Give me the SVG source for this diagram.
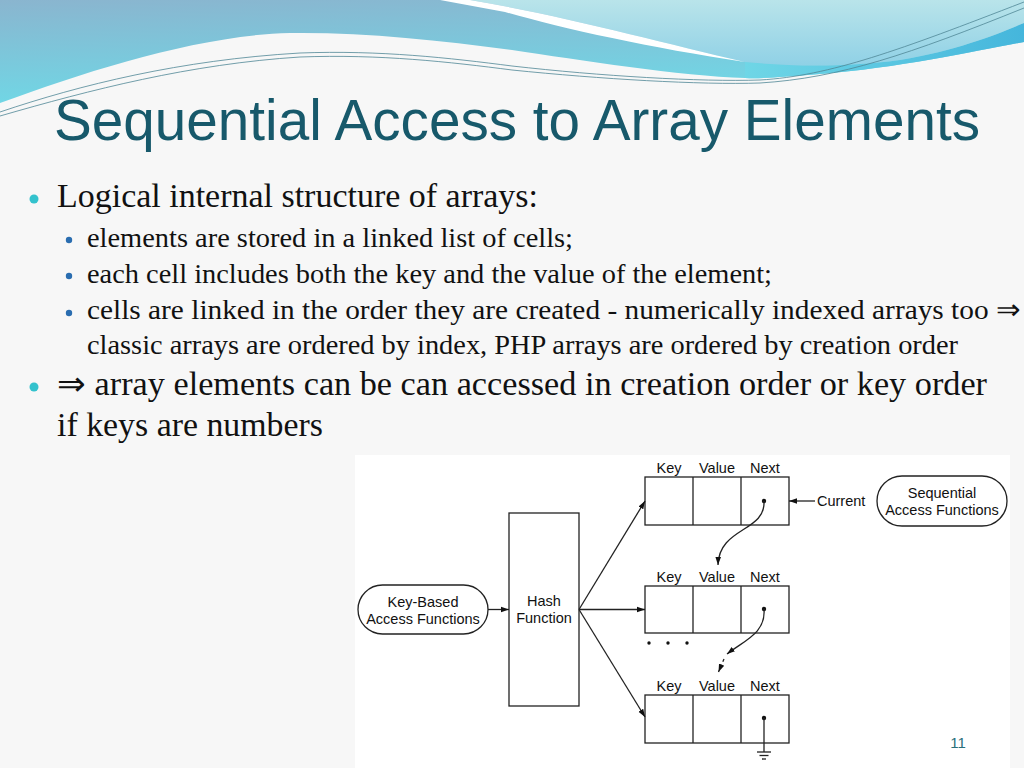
<svg xmlns="http://www.w3.org/2000/svg" width="1024" height="768" viewBox="0 0 1024 768">
<defs>
  <linearGradient id="gBase" x1="0" y1="0" x2="0.25" y2="1">
    <stop offset="0" stop-color="#8ab5cf"/>
    <stop offset="1" stop-color="#6fd8e6"/>
  </linearGradient>
  <linearGradient id="gLight" x1="0" y1="0" x2="0" y2="1">
    <stop offset="0" stop-color="#b9e4ea"/>
    <stop offset="1" stop-color="#90d1e6"/>
  </linearGradient>
  <linearGradient id="gBand" x1="0" y1="0" x2="1" y2="0">
    <stop offset="0" stop-color="#6fd6e6"/>
    <stop offset="1" stop-color="#45b6dc"/>
  </linearGradient>
  <marker id="ah" viewBox="0 0 10 10" refX="10" refY="5" markerWidth="8" markerHeight="8" markerUnits="userSpaceOnUse" orient="auto">
    <path d="M0,1.5 L10,5 L0,8.5 Z" fill="#111"/>
  </marker>
  <style>
    .title{font-family:"Liberation Sans",Arial,sans-serif;font-size:58px;fill:#17596b}
    .b1{font-family:"Liberation Serif","Times New Roman",serif;font-size:33px;fill:#111}
    .b2{font-family:"Liberation Serif","Times New Roman",serif;font-size:28px;fill:#111}
    .dg{font-family:"Liberation Sans",Arial,sans-serif;font-size:14.5px;fill:#111;text-anchor:middle}
    .box{fill:#fff;stroke:#222;stroke-width:1.3}
    .ln{fill:none;stroke:#222;stroke-width:1.3}
    .dot1{fill:#33c2cd}
    .dot2{fill:#2a6db0}
  </style>
</defs>

<!-- background -->
<rect x="0" y="0" width="1024" height="768" fill="#f7f7f7"/>

<!-- header decoration -->
<g id="header">
  <path d="M0,0 H1024 V42 C980,50 900,68 820,74 C780,77 760,79 745,78 C680,76 580,60 512,50 C440,40 360,32 290,33 C200,35 90,70 0,103 Z" fill="url(#gBase)"/>
  <path d="M745,62 C790,66 840,68 900,60 C960,50 1000,33 1024,23 V42 C980,50 900,68 820,74 C780,77 760,79 745,78 Z" fill="url(#gBand)"/>
  <path d="M470,0 H1024 V23 C1000,33 960,50 900,60 C840,68 790,66 745,62 C660,42 560,15 470,0 Z" fill="url(#gLight)"/>
  <path d="M470,0 C560,15 660,42 745,62 C650,48 560,28 505,12 L440,0 Z" fill="#ffffff"/>
  <path d="M0,112 C80,85 180,60 300,53 C380,50 450,58 512,66 C600,76 700,82 760,80 C830,76 900,50 1024,2" fill="none" stroke="#4f8796" stroke-width="0.8"/>
  <path d="M0,116 C90,90 190,64 300,57 C380,54 450,62 512,70 C600,79 700,85 760,83 C840,78 910,54 1024,8" fill="none" stroke="#4f8796" stroke-width="0.8"/>
</g>

<!-- title -->
<text class="title" x="54" y="140" textLength="926" lengthAdjust="spacingAndGlyphs">Sequential Access to Array Elements</text>

<!-- bullets -->
<g id="bullets">
  <circle class="dot1" cx="34" cy="199" r="4.5"/>
  <text class="b1" x="57" y="207" textLength="481" lengthAdjust="spacingAndGlyphs">Logical internal structure of arrays:</text>
  <circle class="dot2" cx="69" cy="240" r="3.2"/>
  <text class="b2" x="87" y="247" textLength="486" lengthAdjust="spacingAndGlyphs">elements are stored in a linked list of cells;</text>
  <circle class="dot2" cx="69" cy="276" r="3.2"/>
  <text class="b2" x="87" y="283" textLength="685" lengthAdjust="spacingAndGlyphs">each cell includes both the key and the value of the element;</text>
  <circle class="dot2" cx="69" cy="313" r="3.2"/>
  <text class="b2" x="87" y="319" textLength="933" lengthAdjust="spacingAndGlyphs">cells are linked in the order they are created - numerically indexed arrays too ⇒</text>
  <text class="b2" x="87" y="354" textLength="871" lengthAdjust="spacingAndGlyphs">classic arrays are ordered by index, PHP arrays are ordered by creation order</text>
  <circle class="dot1" cx="34" cy="387" r="4.5"/>
  <text class="b1" x="57" y="395" textLength="930" lengthAdjust="spacingAndGlyphs">⇒ array elements can be can accessed in creation order or key order</text>
  <text class="b1" x="57" y="436" textLength="266" lengthAdjust="spacingAndGlyphs">if keys are numbers</text>
</g>

<!-- diagram image background -->
<rect x="355" y="455" width="655" height="313" fill="#ffffff"/>

<g id="keybased">
  <rect class="box" x="358" y="585" width="130" height="49" rx="24.5" ry="24.5"/>
  <text class="dg" x="423" y="607">Key-Based</text>
  <text class="dg" x="423" y="623.5">Access Functions</text>
</g>

<g id="hash">
  <rect class="box" x="509" y="513" width="70" height="193"/>
  <text class="dg" x="544" y="606">Hash</text>
  <text class="dg" x="544" y="623">Function</text>
</g>

<g id="cell1">
  <rect class="box" x="645" y="477" width="144" height="48"/>
  <line class="ln" x1="693" y1="477" x2="693" y2="525"/>
  <line class="ln" x1="741" y1="477" x2="741" y2="525"/>
  <text class="dg" x="669" y="473">Key</text>
  <text class="dg" x="717" y="473">Value</text>
  <text class="dg" x="765" y="473">Next</text>
  <circle cx="764" cy="501" r="2.2" fill="#111"/>
</g>

<g id="cell2">
  <rect class="box" x="645" y="586" width="144" height="47"/>
  <line class="ln" x1="693" y1="586" x2="693" y2="633"/>
  <line class="ln" x1="741" y1="586" x2="741" y2="633"/>
  <text class="dg" x="669" y="582">Key</text>
  <text class="dg" x="717" y="582">Value</text>
  <text class="dg" x="765" y="582">Next</text>
  <circle cx="764" cy="609" r="2.2" fill="#111"/>
</g>

<g id="cell3">
  <rect class="box" x="645" y="695" width="144" height="48"/>
  <line class="ln" x1="693" y1="695" x2="693" y2="743"/>
  <line class="ln" x1="741" y1="695" x2="741" y2="743"/>
  <text class="dg" x="669" y="691">Key</text>
  <text class="dg" x="717" y="691">Value</text>
  <text class="dg" x="765" y="691">Next</text>
  <circle cx="764" cy="718" r="2.2" fill="#111"/>
</g>

<g id="sequential">
  <rect class="box" x="877" y="476" width="130" height="50" rx="25" ry="25"/>
  <text class="dg" x="942" y="498">Sequential</text>
  <text class="dg" x="942" y="515">Access Functions</text>
</g>

<g id="ellipsis">
  <circle cx="649" cy="643" r="1.7" fill="#111"/>
  <circle cx="668" cy="643" r="1.7" fill="#111"/>
  <circle cx="687" cy="643" r="1.7" fill="#111"/>
</g>

<g id="connectors">
  <line class="ln" x1="488" y1="609.5" x2="509" y2="609.5" marker-end="url(#ah)"/>
  <line class="ln" x1="579" y1="609.5" x2="645" y2="501" marker-end="url(#ah)"/>
  <line class="ln" x1="579" y1="609.5" x2="645" y2="609.5" marker-end="url(#ah)"/>
  <line class="ln" x1="579" y1="609.5" x2="645" y2="717" marker-end="url(#ah)"/>
  <path class="ln" d="M764,501 C766,532 719,527 718,565" marker-end="url(#ah)"/>
  <path class="ln" d="M764,609 C766,633 745,640 727,654" marker-end="url(#ah)"/>
  <path class="ln" d="M724,659 L718.5,672" stroke-dasharray="3,3" marker-end="url(#ah)"/>
  <line class="ln" x1="815" y1="501" x2="789" y2="501" marker-end="url(#ah)"/>
  <text class="dg" x="817" y="506" style="text-anchor:start">Current</text>
  <line class="ln" x1="764" y1="718" x2="764" y2="752"/>
  <line class="ln" x1="757" y1="752" x2="771" y2="752"/>
  <line class="ln" x1="759.5" y1="755.5" x2="768.5" y2="755.5"/>
  <line class="ln" x1="762" y1="759" x2="766" y2="759"/>
</g>

<text x="958" y="748" style="font-family:'Liberation Sans',Arial,sans-serif;font-size:15px;fill:#2a6f7a;text-anchor:middle">11</text>
</svg>
